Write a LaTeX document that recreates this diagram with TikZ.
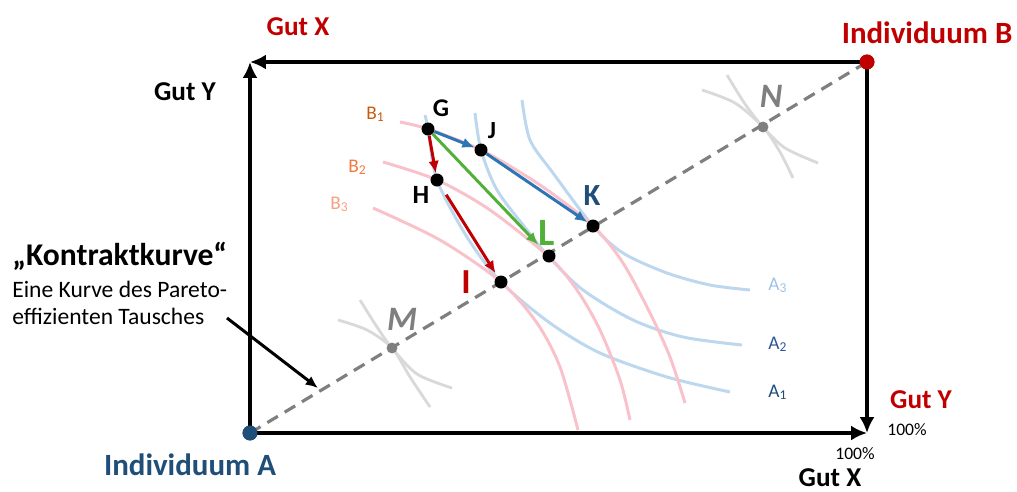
\documentclass[tikz,border=0pt]{standalone}
\usepackage{fontspec}
\setmainfont{Carlito}
\usetikzlibrary{arrows.meta,positioning}
\definecolor{gutred}{HTML}{C00000}
\definecolor{indblue}{HTML}{1F4E79}
\definecolor{movblue}{HTML}{2E75B6}
\definecolor{movgreen}{HTML}{52B03A}
\definecolor{bpink}{HTML}{F9C2CA}
\definecolor{ablue}{HTML}{BDD7EE}
\definecolor{dgray}{HTML}{7F7F7F}
\definecolor{ggray}{HTML}{D9D9D9}
\definecolor{bone}{HTML}{C55A11}
\definecolor{btwo}{HTML}{F07A40}
\definecolor{bthree}{HTML}{F8A080}
\definecolor{aone}{HTML}{1F4E79}
\definecolor{atwo}{HTML}{2F5597}
\definecolor{athree}{HTML}{9DC3E6}
\newcommand{\fsz}[1]{\fontsize{#1}{#1}\selectfont}

\begin{document}
\begin{tikzpicture}[x=0.02cm,y=-0.02cm,>=Latex,
  dot/.style={circle,fill=black,inner sep=0pt,minimum size=7.4pt},
  gdot/.style={circle,fill=dgray,inner sep=0pt,minimum size=6.2pt},
  boxline/.style={line width=2.3pt,-{Latex[length=9pt,width=8.5pt]}},
  bcurve/.style={bpink,line width=1.7pt},
  acurve/.style={ablue,line width=1.7pt},
  ghost/.style={ggray,line width=1.6pt},
  move/.style={line width=1.7pt,-{Latex[length=7pt,width=6pt]}},
  ptlbl/.style={anchor=base,inner sep=0pt,font=\bfseries\fsz{#1}},
  bigtxt/.style={anchor=base,inner sep=0pt,font=\bfseries\fsz{#1}},
  idx/.style={anchor=base west,inner sep=0pt,font=\fsz{11}}]
\useasboundingbox (0,0) rectangle (1017,491);

% corners of the box
\coordinate (TL) at (250,62);
\coordinate (BR) at (867,433);
\node[circle,fill=indblue,inner sep=0pt,minimum size=8.5pt] (A) at (250,433) {};
\node[circle,fill=gutred,inner sep=0pt,minimum size=8.5pt] (B) at (867,62) {};

% indifference curves of A
\draw[acurve] plot[smooth] coordinates {(425,115) (428,129) (437,180) (467,237) (501,282) (550,323) (600,353) (667,377) (730,392)};
\draw[acurve] plot[smooth] coordinates {(475,113) (481,150) (497,190) (527,230) (549,257) (583,290) (633,320) (683,337) (742,345)};
\draw[acurve] plot[smooth] coordinates {(522,100) (530,140) (553,173) (593,226) (623,253) (667,273) (710,285) (750,290)};
% indifference curves of B
\draw[bcurve] plot[smooth] coordinates {(400,122) (428,129) (481,150) (540,185) (593,226) (623,263) (650,313) (670,357) (685,403)};
\draw[bcurve] plot[smooth] coordinates {(383,162) (437,180) (490,210) (549,257) (577,290) (600,330) (620,380) (630,420)};
\draw[bcurve] plot[smooth] coordinates {(373,208) (440,240) (501,282) (537,323) (560,367) (578,430)};
% faded tangencies
\draw[ghost] plot[smooth] coordinates {(360,300) (377,327) (392,348) (417,374) (452,388)};
\draw[ghost] plot[smooth] coordinates {(338,320) (367,330) (392,348) (410,377) (430,407)};
\draw[ghost] plot[smooth] coordinates {(727,75) (745,104) (763,127) (785,148) (818,163)};
\draw[ghost] plot[smooth] coordinates {(702,90) (735,103) (763,127) (780,152) (793,178)};

% box
\draw[boxline] (A.center) -- (TL);
\draw[boxline] (B.center) -- (TL);
\draw[boxline] (A.center) -- (BR);
\draw[boxline] (B.center) -- (BR);

% contract curve
\draw[dgray,line width=1.8pt,dash pattern=on 7pt off 4.5pt] (A.center) -- (B.center);
\node[circle,fill=indblue,inner sep=0pt,minimum size=8.5pt] at (A) {};
\node[circle,fill=gutred,inner sep=0pt,minimum size=8.5pt] at (B) {};

% points
\node[dot] (G) at (428,129) {};
\node[dot] (J) at (481,150) {};
\node[dot] (H) at (437,180) {};
\node[dot] (K) at (593,226) {};
\node[dot] (L) at (549,256) {};
\node[dot] (I) at (501,282) {};
\node[gdot] (M) at (392,348) {};
\node[gdot] (N) at (763,127) {};

% moves
\draw[move,movblue] (G) -- (J);
\draw[move,movblue] (J) -- (K);
\draw[move,gutred] (G) -- (H);
\draw[move,gutred,shorten <=6pt,shorten >=2pt] (H) -- (I);
\draw[move,movgreen,shorten >=5pt] (G) -- (L);

% point labels
\node[ptlbl=14.5] at (441,116) {G};
\node[ptlbl=14] at (492,138) {J};
\node[ptlbl=15] at (421,203) {H};
\node[ptlbl=17.5,text=indblue] at (592,205) {K};
\node[ptlbl=22,text=movgreen] at (547,245) {L};
\node[ptlbl=20,text=gutred] at (466,293) {I};
\node[ptlbl=19.5,text=dgray,font=\bfseries\itshape\fsz{19.5}] at (402,330) {M};
\node[ptlbl=19.5,text=dgray,font=\bfseries\itshape\fsz{19.5}] at (771,107) {N};

% curve labels
\node[idx,text=bone] at (366,119) {B\textsubscript{1}};
\node[idx,text=btwo] at (348,172) {B\textsubscript{2}};
\node[idx,text=bthree] at (330,209) {B\textsubscript{3}};
\node[idx,text=athree] at (768,290) {A\textsubscript{3}};
\node[idx,text=atwo] at (768,349) {A\textsubscript{2}};
\node[idx,text=aone] at (768,397) {A\textsubscript{1}};

% axis texts
\node[bigtxt=15.5,text=gutred] at (298,35) {Gut X};
\node[bigtxt=15.5] at (185,100) {Gut Y};
\node[bigtxt=17.6,text=gutred] at (927,43) {Individuum B};
\node[bigtxt=17.6,text=indblue] at (190,475) {Individuum A};
\node[bigtxt=15.5,text=gutred] at (921,408) {Gut Y};
\node[anchor=base,inner sep=0pt,font=\fsz{10}] at (907,435) {100\%};
\node[anchor=base,inner sep=0pt,font=\fsz{10}] at (855,459) {100\%};
\node[bigtxt=15.5] at (830,486) {Gut X};

% explanation
\node[anchor=base west,inner sep=0pt,font=\bfseries\fsz{18}] (kk) at (12,265) {„Kontraktkurve“};
\node[anchor=north west,inner sep=0pt,align=left,font=\fontsize{13.4}{15}\selectfont] (kktxt) at (12,281) {Eine Kurve des Pareto-\\effizienten Tausches};
\coordinate (kkfrom) at (227,318);
\coordinate (kkto) at (318,388);
\draw[line width=1.7pt,-{Latex[length=7pt,width=6pt]}] (kkfrom) -- (kkto);
\end{tikzpicture}
\end{document}
